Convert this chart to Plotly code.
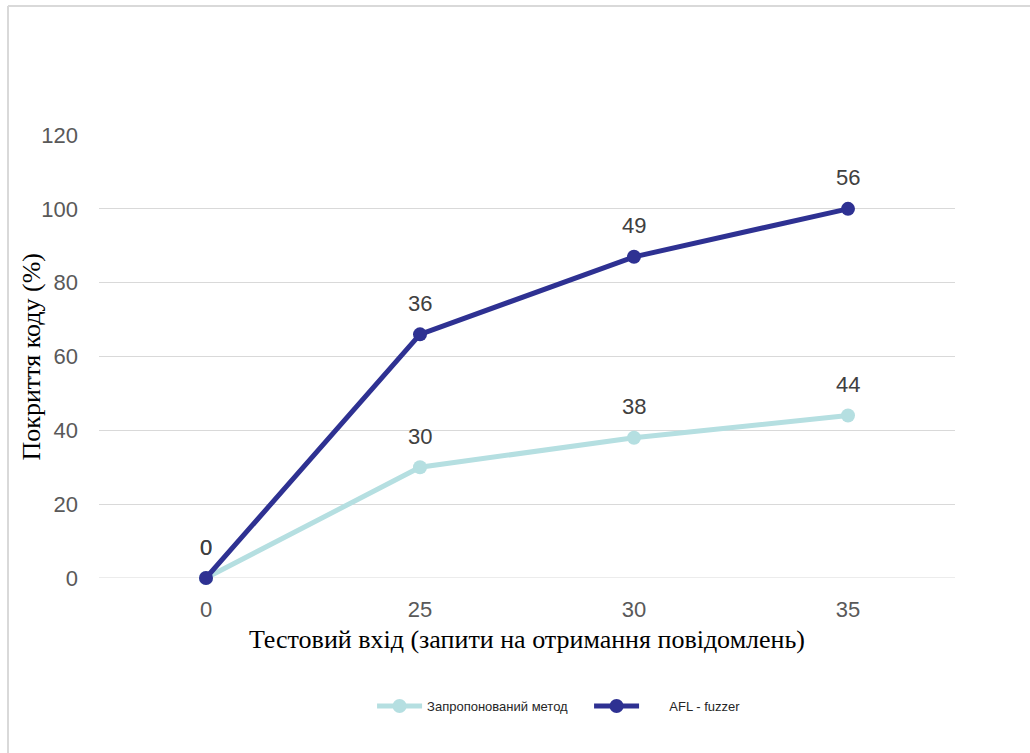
import plotly.graph_objects as go

categories = ["0", "25", "30", "35"]
proposed_values = [0, 30, 38, 44]
proposed_labels = ["0", "30", "38", "44"]
afl_values = [0, 66, 87, 100]
afl_labels = ["0", "36", "49", "56"]
y_ticks = [0, 20, 40, 60, 80, 100, 120]

LIGHT = "#B5DFE1"
DARK = "#2E3192"
LABEL_FONT = dict(family="Liberation Sans, Arial", size=22, color="#404040")

fig = go.Figure()
fig.add_trace(go.Scatter(
    x=categories, y=proposed_values, name="Запропонований метод",
    mode="lines+markers",
    line=dict(color=LIGHT, width=5), marker=dict(color=LIGHT, size=14),
    cliponaxis=False,
))
fig.add_trace(go.Scatter(
    x=categories, y=afl_values, name="\u00a0\u00a0\u00a0\u00a0\u00a0\u00a0\u00a0AFL - fuzzer",
    mode="lines+markers",
    line=dict(color=DARK, width=5), marker=dict(color=DARK, size=14),
    cliponaxis=False,
))

annotations = []
for ys, labels in [(proposed_values, proposed_labels), (afl_values, afl_labels)]:
    for i, (cy, lab) in enumerate(zip(ys, labels)):
        annotations.append(dict(x=i, y=cy, text=lab, showarrow=False, xref="x", yref="y",
                                yshift=31, font=LABEL_FONT))
annotations.append(dict(x=-0.0783, y=0.5, xref="paper", yref="paper", xanchor="center",
                        yanchor="middle", textangle=-90, showarrow=False,
                        text="Покриття коду (%)",
                        font=dict(family="Liberation Serif, Times New Roman", size=26, color="black")))

fig.update_layout(
    width=1030, height=753,
    margin=dict(l=99, r=75, t=135, b=175),
    paper_bgcolor="white", plot_bgcolor="white",
    showlegend=True,
    legend=dict(orientation="h", x=0.319, xanchor="left", y=-0.289, yanchor="middle",
                font=dict(family="Liberation Sans, Arial", size=13, color="#262626"),
                itemwidth=45, entrywidth=157, entrywidthmode="pixels", tracegroupgap=0),
    annotations=annotations,
    xaxis=dict(
        type="category", categoryorder="array", categoryarray=categories,
        range=[-0.5, 3.5], showgrid=False, zeroline=False, showline=False,
        ticks="", ticklabelstandoff=16,
        tickfont=dict(family="Liberation Sans, Arial", size=22, color="#595959"),
        title=dict(text="Тестовий вхід (запити на отримання повідомлень)",
                   font=dict(family="Liberation Serif, Times New Roman", size=26, color="black"),
                   standoff=8),
    ),
    yaxis=dict(
        range=[0, 120], tickvals=y_ticks, showgrid=True, gridcolor="#D9D9D9", gridwidth=1,
        zeroline=False, showline=False, ticks="", ticklabelstandoff=20,
        tickfont=dict(family="Liberation Sans, Arial", size=22, color="#595959"),
    ),
    shapes=[
        dict(type="line", xref="paper", yref="paper", x0=-0.1063, x1=1.2, y0=1.2912, y1=1.2912,
             line=dict(color="#D9D9D9", width=2)),
        dict(type="line", xref="paper", yref="paper", x0=-0.1063, x1=-0.1063, y0=1.2912, y1=-0.5,
             line=dict(color="#D9D9D9", width=2)),
        dict(type="line", xref="paper", yref="y", x0=0, x1=1, y0=0, y1=0,
             line=dict(color="#D9D9D9", width=1), layer="below"),
    ],
)

fig.write_html("out.html")
